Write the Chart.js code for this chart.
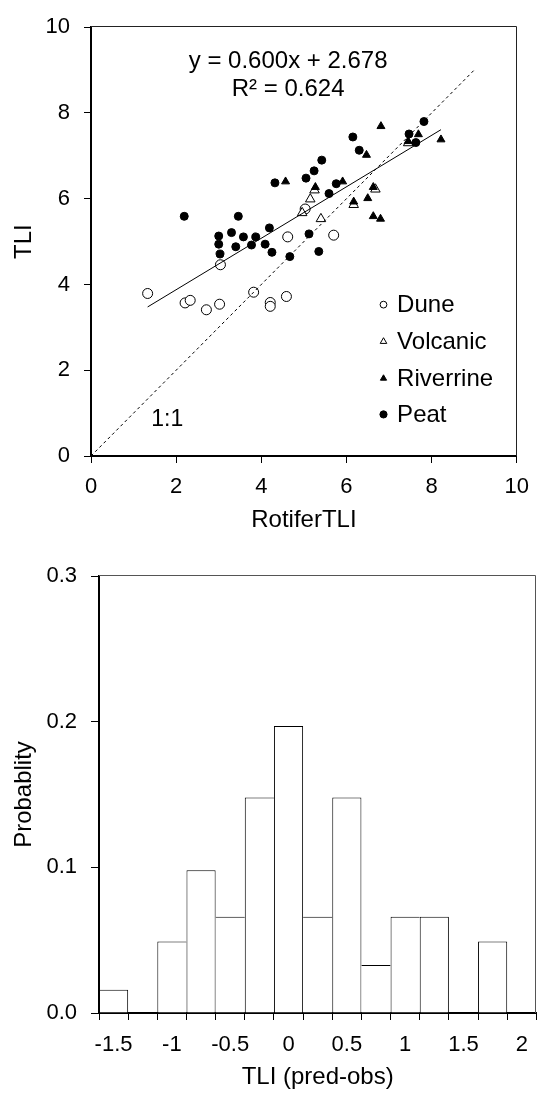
<!DOCTYPE html>
<html>
<head>
<meta charset="utf-8">
<script src="https://cdn.jsdelivr.net/npm/chart.js@4.4.1/dist/chart.umd.min.js"></script>
<style>
  html, body { margin: 0; padding: 0; background: #fff; }
  body { width: 540px; height: 1093px; position: relative; overflow: hidden; }
  #wrapTop  { position: absolute; left: 0; top: 0;     width: 540px; height: 545px; }
  #wrapHist { position: absolute; left: 0; top: 540px; width: 540px; height: 553px; }
</style>
</head>
<body>
<div id="wrapTop"><canvas id="scatter" width="540" height="545"></canvas></div>
<div id="wrapHist"><canvas id="hist" width="540" height="553"></canvas></div>
<script>
// ---- Observed TLI vs rotifer-based TLI, by lake type ----
const duneX = [1.33, 2.21, 2.33, 2.71, 3.02, 3.04, 3.82, 4.21, 4.21, 4.59, 4.62, 5.03, 5.70];
const duneY = [3.79, 3.57, 3.63, 3.41, 3.54, 4.46, 3.82, 3.58, 3.49, 3.72, 5.11, 5.76, 5.15];

const volcanicX = [4.96, 5.15, 5.25, 5.40, 6.17, 6.68, 7.45];
const volcanicY = [5.67, 5.99, 6.20, 5.53, 5.86, 6.22, 7.30];

const riverrineX = [4.57, 5.27, 5.91, 6.17, 6.47, 6.50, 6.63, 6.63, 6.80, 6.81, 7.45, 7.69, 8.22];
const riverrineY = [6.40, 6.27, 6.40, 5.93, 7.02, 6.01, 6.27, 5.59, 5.53, 7.69, 7.34, 7.50, 7.38];

const peatX = [2.19, 3.00, 3.00, 3.03, 3.30, 3.40, 3.46, 3.58, 3.77, 3.87, 4.09, 4.19, 4.25, 4.32,
               4.67, 5.05, 5.12, 5.24, 5.35, 5.42, 5.59, 5.76, 6.15, 6.30, 7.47, 7.63, 7.82];
const peatY = [5.59, 5.13, 4.94, 4.71, 5.21, 4.88, 5.59, 5.11, 4.92, 5.11, 4.94, 5.32, 4.75, 6.37,
               4.65, 6.48, 5.18, 6.65, 4.77, 6.90, 6.12, 6.35, 7.44, 7.13, 7.51, 7.31, 7.80];

// Least-squares fit and 1:1 reference
const fitSlope = 0.600;
const fitIntercept = 2.678;
const fitR2 = 0.624;
const fitRangeX = [1.33, 8.22];
const oneToOneX = [0, 9];

const scatterTicks = [0, 2, 4, 6, 8, 10];

// ---- Distribution of residuals (pred - obs) ----
const residualBins = [-1.5, -1.25, -1, -0.75, -0.5, -0.25, 0, 0.25, 0.5, 0.75, 1, 1.25, 1.5, 1.75, 2];
const probability  = [0.016, 0, 0.049, 0.098, 0.066, 0.148, 0.197, 0.066, 0.148, 0.033, 0.066, 0.066, 0, 0.049, 0];
const probTicks = [0, 0.1, 0.2, 0.3];

const FONT = "'Liberation Sans', Arial, Helvetica, sans-serif";
Chart.defaults.font.family = FONT;
Chart.defaults.color = '#000';

const zip = (xs, ys) => xs.map((x, i) => ({ x, y: ys[i] }));

// Top + right frame lines around the plotting area
function drawFrame(chart, color) {
  const { ctx, chartArea: a } = chart;
  ctx.save();
  ctx.strokeStyle = color;
  ctx.lineWidth = 1;
  ctx.beginPath();
  const t = Math.round(a.top) - 0.5;
  const r = Math.round(a.right) - 0.5;
  ctx.moveTo(a.left, t);
  ctx.lineTo(r, t);
  ctx.lineTo(r, a.bottom);
  ctx.stroke();
  ctx.restore();
}

function marker(ctx, style, x, y, r, filled) {
  ctx.beginPath();
  if (style === 'circle') {
    ctx.arc(x, y, r, 0, Math.PI * 2);
  } else {
    const h = r * 1.5, w = r * Math.sqrt(3);
    ctx.moveTo(x, y - r);
    ctx.lineTo(x + w / 2, y - r + h);
    ctx.lineTo(x - w / 2, y - r + h);
    ctx.closePath();
  }
  ctx.fillStyle = filled ? '#000' : '#fff';
  ctx.fill();
  ctx.lineWidth = 1;
  ctx.strokeStyle = '#000';
  ctx.stroke();
}

const scatterDecor = {
  id: 'scatterDecor',
  afterDraw(chart) {
    drawFrame(chart, '#222');
    const { ctx, scales: { x, y } } = chart;
    ctx.save();
    ctx.fillStyle = '#000';
    ctx.textAlign = 'center';
    ctx.textBaseline = 'middle';
    ctx.font = `24px ${FONT}`;
    ctx.fillText(`y = ${fitSlope.toFixed(3)}x + ${fitIntercept.toFixed(3)}`, x.getPixelForValue(4.63), y.getPixelForValue(9.20));
    ctx.fillText(`R\u00B2 = ${fitR2.toFixed(3)}`, x.getPixelForValue(4.63), y.getPixelForValue(8.56));
    ctx.font = `23px ${FONT}`;
    ctx.fillText('1:1', x.getPixelForValue(1.79), y.getPixelForValue(0.85));

    // legend
    const items = [
      { label: 'Dune',      style: 'circle',   filled: false, r: 3.4 },
      { label: 'Volcanic',  style: 'triangle', filled: false, r: 3.8 },
      { label: 'Riverrine', style: 'triangle', filled: true,  r: 3.6 },
      { label: 'Peat',      style: 'circle',   filled: true,  r: 3.6 }
    ];
    const rowsY = [3.53, 2.67, 1.81, 0.97];
    const mx = x.getPixelForValue(6.87);
    const tx = x.getPixelForValue(7.19);
    ctx.textAlign = 'left';
    ctx.font = `24px ${FONT}`;
    items.forEach((it, i) => {
      const py = y.getPixelForValue(rowsY[i]);
      marker(ctx, it.style, mx, py, it.r, it.filled);
      ctx.fillStyle = '#000';
      ctx.fillText(it.label, tx, py + 1);
    });
    ctx.restore();
  }
};

const histDecor = {
  id: 'histDecor',
  afterDraw(chart) { drawFrame(chart, '#555'); }
};

new Chart(document.getElementById('scatter'), {
  type: 'scatter',
  data: {
    datasets: [
      {
        type: 'line', label: 'fit', order: 0,
        data: fitRangeX.map(v => ({ x: v, y: fitSlope * v + fitIntercept })),
        borderColor: '#000', borderWidth: 1, pointRadius: 0, fill: false
      },
      {
        type: 'line', label: '1:1', order: 0,
        data: zip(oneToOneX, oneToOneX),
        borderColor: '#000', borderWidth: 1, borderDash: [3, 3], pointRadius: 0, fill: false
      },
      {
        label: 'Dune', order: 4, data: zip(duneX, duneY),
        pointStyle: 'circle', pointRadius: 5, pointBorderWidth: 1,
        pointBackgroundColor: '#fff', pointBorderColor: '#000'
      },
      {
        label: 'Volcanic', order: 3, data: zip(volcanicX, volcanicY),
        pointStyle: 'triangle', pointRadius: 5.5, pointBorderWidth: 1,
        pointBackgroundColor: '#fff', pointBorderColor: '#000'
      },
      {
        label: 'Riverrine', order: 2, data: zip(riverrineX, riverrineY),
        pointStyle: 'triangle', pointRadius: 4.6, pointBorderWidth: 1,
        pointBackgroundColor: '#000', pointBorderColor: '#000'
      },
      {
        label: 'Peat', order: 1, data: zip(peatX, peatY),
        pointStyle: 'circle', pointRadius: 4, pointBorderWidth: 1,
        pointBackgroundColor: '#000', pointBorderColor: '#000'
      }
    ]
  },
  options: {
    responsive: false,
    animation: false,
    events: [],
    layout: { padding: { top: 19, right: 15, left: 0, bottom: 0 } },
    plugins: { legend: { display: false }, tooltip: { enabled: false } },
    scales: {
      x: {
        type: 'linear', position: 'bottom',
        min: 0, max: 10,
        afterBuildTicks: s => { s.ticks = scatterTicks.map(v => ({ value: v })); },
        afterFit: s => { s.height = 89; },
        border: { display: true, color: '#000', width: 2 },
        grid: { drawOnChartArea: false, drawTicks: true, tickLength: 7, color: '#000', lineWidth: 1 },
        ticks: { font: { size: 22 }, padding: 11, color: '#000', maxRotation: 0 },
        title: { display: true, text: 'RotiferTLI', font: { size: 24 }, color: '#000', padding: { top: 0, bottom: 10 } }
      },
      y: {
        type: 'linear', position: 'left',
        min: 0, max: 10,
        afterBuildTicks: s => { s.ticks = scatterTicks.map(v => ({ value: v })); },
        afterFit: s => { s.width = 91; },
        border: { display: true, color: '#000', width: 2 },
        grid: { drawOnChartArea: false, drawTicks: true, tickLength: 7, color: '#000', lineWidth: 1 },
        ticks: { font: { size: 22 }, padding: 14, color: '#000' },
        title: { display: true, text: 'TLI', font: { size: 24 }, color: '#000', padding: { top: 10, bottom: 0 } }
      }
    }
  },
  plugins: [scatterDecor]
});

new Chart(document.getElementById('hist'), {
  type: 'bar',
  data: {
    labels: residualBins.map(String),
    datasets: [{
      data: probability,
      backgroundColor: '#fff',
      borderColor: '#000',
      borderSkipped: 'bottom',
      inflateAmount: 0,
      borderWidth: c => {
        const i = c.dataIndex, v = probability;
        return {
          top: 1, bottom: 0,
          left: (i === 0 || v[i] >= v[i - 1]) ? 1 : 0,
          right: (i === v.length - 1 || v[i] > v[i + 1]) ? 1 : 0
        };
      },
      barPercentage: 1,
      categoryPercentage: 1
    }]
  },
  options: {
    responsive: false,
    animation: false,
    events: [],
    layout: { padding: { top: 36, right: 3, left: 0, bottom: 0 } },
    plugins: { legend: { display: false }, tooltip: { enabled: false } },
    scales: {
      x: {
        type: 'category', offset: true,
        afterFit: s => { s.height = 80; },
        border: { display: true, color: '#000', width: 2 },
        grid: { offset: true, drawOnChartArea: false, drawTicks: true, tickLength: 7, color: '#000', lineWidth: 1 },
        ticks: {
          autoSkip: false, maxRotation: 0, minRotation: 0,
          font: { size: 22 }, padding: 12, color: '#000',
          callback: (val, i) => (i % 2 === 0 ? String(residualBins[i]) : '')
        },
        title: { display: true, text: 'TLI (pred-obs)', font: { size: 24 }, color: '#000', padding: { top: 0, bottom: 1 } }
      },
      y: {
        type: 'linear', min: 0, max: 0.3,
        afterBuildTicks: s => { s.ticks = probTicks.map(v => ({ value: v })); },
        afterFit: s => { s.width = 99; },
        border: { display: true, color: '#000', width: 2 },
        grid: { drawOnChartArea: false, drawTicks: true, tickLength: 8, color: '#000', lineWidth: 1 },
        ticks: { font: { size: 22 }, padding: 14, color: '#000', callback: v => Number(v).toFixed(1) },
        title: { display: true, text: 'Probablity', font: { size: 24 }, color: '#000', padding: { top: 10, bottom: 0 } }
      }
    }
  },
  plugins: [histDecor]
});
</script>
</body>
</html>
